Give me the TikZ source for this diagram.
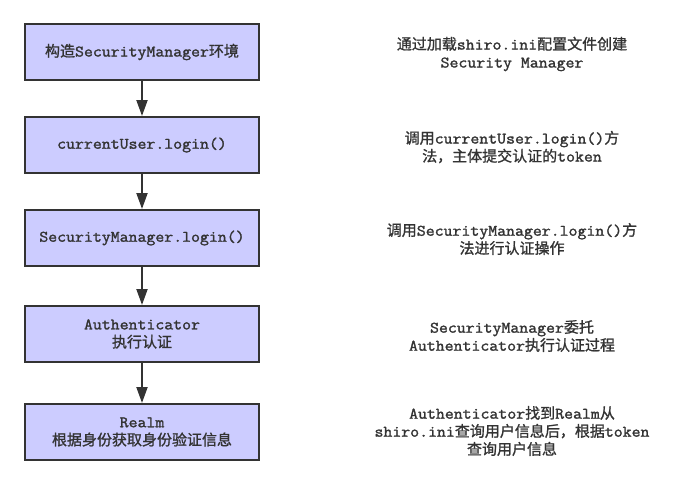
\documentclass[tikz,border=0pt]{standalone}
\usepackage{fontspec}
\setmainfont{Latin Modern Mono}[Scale=1.07, FakeStretch=1.08, FakeBold=1.6]
\newfontfamily\cjk{Noto Sans CJK SC}[FakeBold=1.2]
\usepackage{tikz}
\usetikzlibrary{arrows.meta}

\definecolor{boxfill}{HTML}{CCCCFF}
\definecolor{inkgray}{HTML}{333333}
\newcommand{\zh}[1]{{\cjk #1}}

\tikzset{
  stepbox/.style={draw=inkgray, line width=2pt, fill=boxfill, text=inkgray,
    minimum width=234pt, minimum height=56pt, align=center, inner sep=2pt,
    font=\fontsize{15}{18}\selectfont},
  note/.style={text=inkgray, align=center, inner sep=0pt,
    font=\fontsize{15}{18}\selectfont},
  flow/.style={draw=inkgray, line width=2pt, -{Triangle[width=11pt,length=16pt]}}
}

\begin{document}
\begin{tikzpicture}[x=1pt,y=-1pt]
\useasboundingbox (0,0) rectangle (685,485);
% boxes of the login flow
\node [stepbox] (env) at (142,52) {\zh{构造}SecurityManager\zh{环境}};
\node [stepbox] (user) at (142,145) {currentUser.login()};
\node [stepbox] (mgr) at (142,238) {SecurityManager.login()};
\node [stepbox] (auth) at (142,334) {Authenticator\\\zh{执行认证}};
\node [stepbox] (realm) at (142,432) {Realm\\\zh{根据身份获取身份验证信息}};
% notes on the right
\node [note] (envnote) at (512,54) {\zh{通过加载}shiro.ini\zh{配置文件创建}\\Security Manager};
\node [note] (usernote) at (512,147) {\zh{调用}currentUser.login()\zh{方}\\\zh{法，主体提交认证的}token};
\node [note] (mgrnote) at (512,239) {\zh{调用}SecurityManager.login()\zh{方}\\\zh{法进行认证操作}};
\node [note] (authnote) at (512,336) {SecurityManager\zh{委托}\\Authenticator\zh{执行认证过程}};
\node [note] (realmnote) at (512,431) {Authenticator\zh{找到}Realm\zh{从}\\shiro.ini\zh{查询用户信息后，根据}token\\\zh{查询用户信息}};
% arrows
\draw [flow] (env) -- (user);
\draw [flow] (user) -- (mgr);
\draw [flow] (mgr) -- (auth);
\draw [flow] (auth) -- (realm);
\end{tikzpicture}
\end{document}
